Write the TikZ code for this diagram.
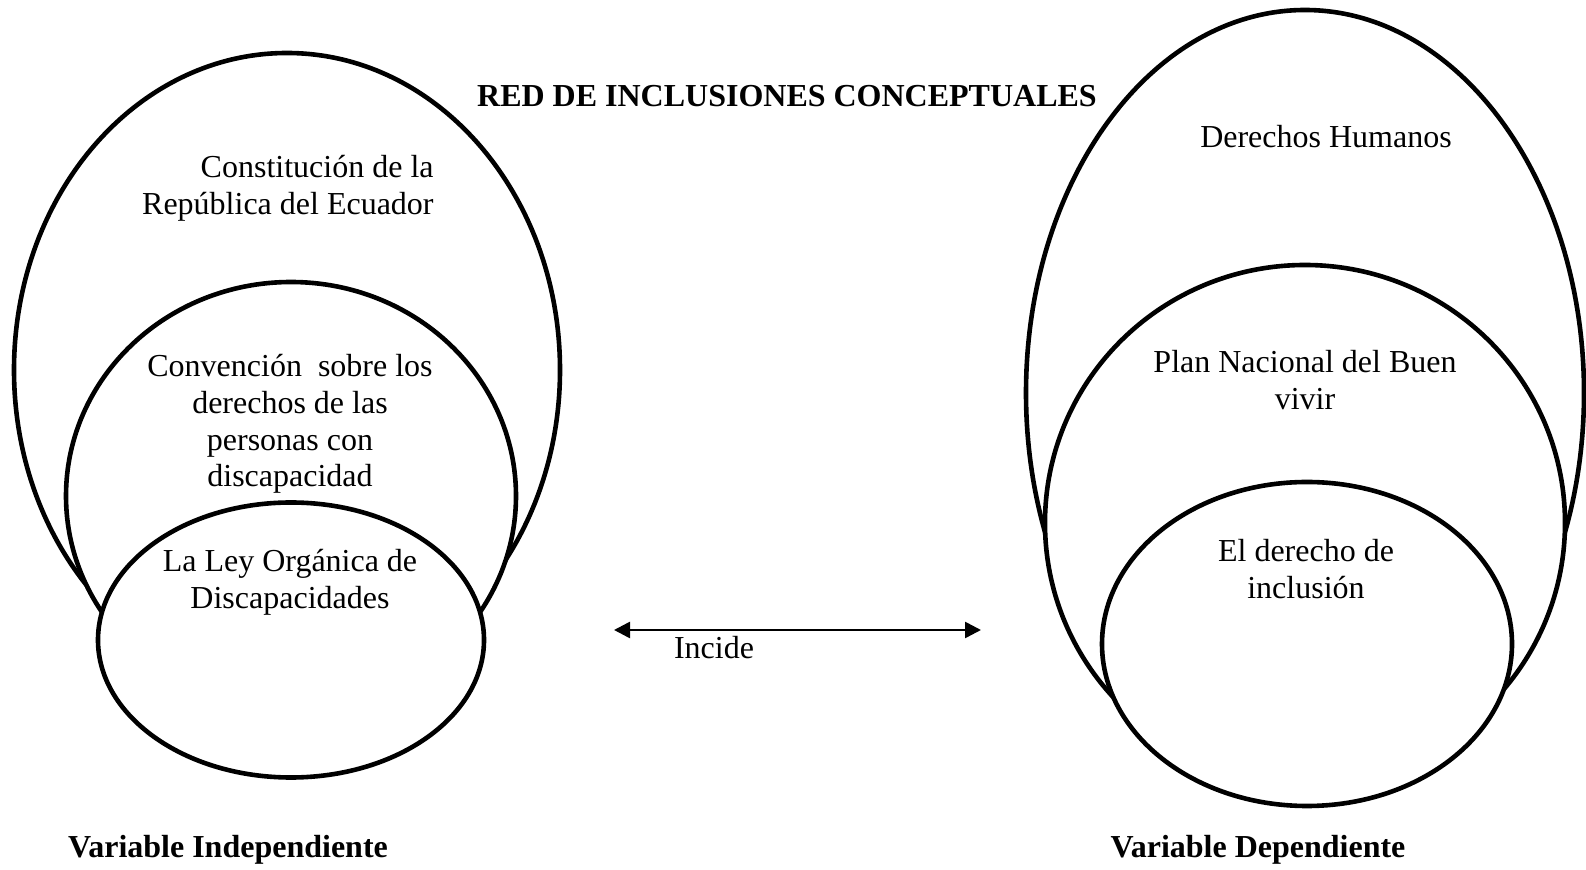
\documentclass[tikz,border=0pt]{standalone}
\usepackage{fontspec}
\setmainfont{Liberation Serif}
\usetikzlibrary{shapes.geometric, arrows.meta, positioning}

\begin{document}
\begin{tikzpicture}[x=0.5pt,y=-0.5pt,
		ring/.style={draw, ellipse, line width=2.3pt, fill=white, inner sep=0pt},
		lbl/.style={font=\fontsize{16}{18.4}\selectfont, align=center, inner sep=0pt},
		ttl/.style={font=\fontsize{16}{18.4}\selectfont\bfseries, inner sep=0pt}]
	\useasboundingbox (0,0) rectangle (1586,870);
	% left: variable independiente
	\node[ring, minimum width=273pt, minimum height=317pt] (con) at (287,370) {};
	\node[ring, minimum width=225pt, minimum height=214pt] (conv) at (291,496) {};
	\node[ring, minimum width=193pt, minimum height=137.5pt] (ley) at (291,640) {};
	% right: variable dependiente
	\node[ring, minimum width=279pt, minimum height=383pt] (dh) at (1305,393) {};
	\node[ring, minimum width=260pt, minimum height=258pt] (plan) at (1305,523) {};
	\node[ring, minimum width=205pt, minimum height=162pt] (incl) at (1307,644) {};
	% texts
	\node[ttl] (title) at (787,96) {RED DE INCLUSIONES CONCEPTUALES};
	\node[lbl, align=right, anchor=east] (tcon) at (434,188) {Constitución de la\\República del Ecuador};
	\node[lbl] (tconv) at (290,424) {Convención~ sobre los\\derechos de las\\personas con\\discapacidad};
	\node[lbl] (tley) at (290,582) {La Ley Orgánica de\\Discapacidades};
	\node[lbl] (tdh) at (1326,137) {Derechos Humanos};
	\node[lbl] (tplan) at (1305,380) {Plan Nacional del Buen\\vivir};
	\node[lbl] (tincl) at (1306,569) {El derecho de\\inclusión};
	\node[ttl] (vi) at (228,850) {Variable Independiente};
	\node[ttl] (vd) at (1258,850) {Variable Dependiente};
	% incide
	\coordinate (a1) at (614,630);
	\coordinate (a2) at (981,630);
	\draw[{Triangle[length=8pt,width=8pt]}-{Triangle[length=8pt,width=8pt]}, line width=1.3pt] (a1) -- (a2);
	\node[lbl] (inc) at (714,648) {Incide};
\end{tikzpicture}
\end{document}
